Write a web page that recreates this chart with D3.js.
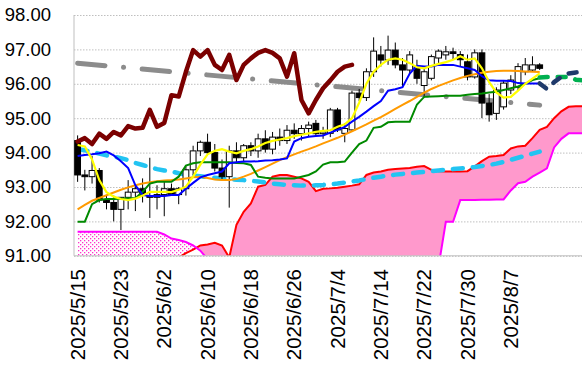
<!DOCTYPE html>
<html>
<head>
<meta charset="utf-8">
<script src="https://cdn.jsdelivr.net/npm/d3@7"></script>
<style>
body { margin: 0; background: #fff; }
svg { display: block; font-family: "Liberation Sans", Arial, sans-serif; }
</style>
</head>
<body>
<svg id="canvas"></svg>
<script>
// tick labels (one every 6 trading days)
let dates = ["2025/5/15","2025/5/23","2025/6/2","2025/6/10","2025/6/18","2025/6/26",
             "2025/7/4","2025/7/14","2025/7/22","2025/7/30","2025/8/7"];
let yTicks = [91, 92, 93, 94, 95, 96, 97, 98];

// daily candles [open, high, low, close]
let ohlc = [
  [94.35,94.50,93.15,93.35],[93.35,93.50,92.90,93.30],[93.30,93.90,93.10,93.48],[93.48,93.55,92.55,92.62],
  [92.62,92.75,92.35,92.55],[92.55,92.75,92.00,92.35],[92.35,92.70,91.75,92.70],[92.70,93.20,92.35,92.85],
  [92.85,93.05,92.30,92.95],[92.95,93.25,92.55,92.75],[92.75,93.85,92.10,92.70],[92.70,93.05,92.35,92.78],
  [92.78,93.15,92.15,92.95],[92.95,93.10,92.75,92.78],[92.78,93.00,92.50,92.95],[92.95,93.60,92.75,93.50],
  [93.50,94.20,93.35,94.05],[94.05,94.35,93.90,94.30],[94.30,94.55,93.95,94.00],[94.00,94.25,93.45,93.55],
  [93.55,93.80,93.20,93.30],[93.30,94.20,92.40,94.05],[94.05,94.30,93.70,93.85],[93.85,94.25,93.75,94.20],
  [94.20,94.30,93.90,94.05],[94.05,94.55,93.85,94.40],[94.40,94.65,94.00,94.10],[94.10,94.60,93.95,94.45],
  [94.45,94.70,94.20,94.35],[94.35,94.80,94.25,94.65],[94.65,94.85,94.40,94.55],[94.55,94.80,94.35,94.70],
  [94.70,94.90,94.45,94.80],[94.85,94.95,94.50,94.55],[94.55,94.75,94.40,94.60],[94.56,95.30,94.45,95.24],
  [95.24,95.30,94.60,94.66],[94.56,94.85,94.30,94.70],[94.66,95.80,94.60,95.73],[95.73,95.85,95.50,95.60],
  [95.60,96.45,95.50,96.35],[96.35,97.35,96.20,96.95],[96.84,97.10,96.50,96.69],[96.69,97.40,96.55,96.98],
  [96.98,97.20,96.45,96.55],[96.55,96.75,95.90,96.40],[96.40,96.95,96.30,96.84],[96.50,96.70,96.00,96.16],
  [95.95,96.45,95.60,96.35],[96.16,96.85,96.10,96.79],[96.75,97.00,96.55,96.95],[96.84,97.10,96.70,96.93],
  [96.93,97.05,96.70,96.88],[96.85,96.95,96.50,96.70],[96.64,96.85,96.10,96.20],[96.20,97.00,96.15,96.90],
  [96.90,97.00,95.00,95.44],[95.44,95.70,94.90,95.10],[95.14,95.90,94.95,95.82],[95.33,96.10,95.25,96.02],
  [95.82,96.25,95.70,96.11],[95.90,96.60,95.80,96.50],[96.35,96.75,96.25,96.55],[96.40,96.80,96.35,96.55],
  [96.55,96.60,96.40,96.45]
];

let ma5 = [94.22,94.18,93.80,93.20,92.85,92.72,92.65,92.62,92.66,92.75,92.86,92.86,92.86,92.85,92.92,93.01,
  93.30,93.65,93.95,94.05,94.10,94.03,93.98,94.05,94.10,94.18,94.28,94.34,94.38,94.42,94.48,94.52,94.56,
  94.60,94.63,94.65,94.75,94.82,95.00,95.45,96.00,96.35,96.55,96.70,96.74,96.70,96.60,96.48,96.45,96.52,
  96.58,96.63,96.70,96.80,96.70,96.74,96.45,96.05,95.75,95.60,95.62,95.80,96.00,96.15,96.30];

let ma25 = [92.35,92.48,92.60,92.68,92.76,92.84,92.92,92.99,93.05,93.10,93.14,93.17,93.19,93.20,93.22,93.25,
  93.28,93.30,93.26,93.22,93.20,93.20,93.23,93.30,93.38,93.48,93.58,93.68,93.78,93.87,93.95,94.03,94.10,
  94.18,94.27,94.35,94.43,94.52,94.62,94.72,94.82,94.93,95.03,95.15,95.27,95.39,95.50,95.62,95.74,95.85,
  95.94,96.02,96.10,96.17,96.23,96.28,96.32,96.35,96.37,96.38,96.38,96.37,96.36,96.35,96.34];

let ma75 = [94.10,94.07,94.02,93.97,93.92,93.88,93.84,93.78,93.70,93.64,93.58,93.52,93.48,93.45,93.40,93.36,
  93.33,93.31,93.29,93.27,93.25,93.23,93.21,93.20,93.18,93.16,93.13,93.10,93.08,93.06,93.05,93.04,93.04,
  93.05,93.06,93.08,93.10,93.13,93.16,93.19,93.23,93.27,93.30,93.33,93.36,93.38,93.40,93.42,93.44,93.46,
  93.48,93.50,93.52,93.54,93.56,93.58,93.61,93.64,93.68,93.73,93.79,93.85,93.91,93.97,94.03];

let tenkan = [93.90,93.93,93.95,93.98,94.03,93.92,93.75,93.55,93.05,92.77,92.74,92.74,92.74,92.77,92.77,92.95,
  93.12,93.28,93.35,93.40,93.45,93.69,93.72,93.74,93.74,93.75,93.77,93.78,93.80,93.83,94.32,94.42,94.46,
  94.48,94.50,94.58,94.66,94.75,94.90,95.04,95.19,95.35,95.50,95.80,95.84,95.90,96.30,96.52,96.50,96.50,
  96.55,96.55,96.55,96.50,96.45,96.40,96.22,96.10,96.09,96.09,96.08,96.02,96.01,96.01,96.01];

let kijun = [91.99,91.99,92.50,92.62,92.65,92.65,92.66,92.67,92.67,92.86,93.10,93.15,93.15,93.15,93.30,93.62,
  93.69,93.72,93.72,93.72,93.72,93.72,93.70,93.69,93.64,93.30,93.27,93.25,93.25,93.25,93.25,93.30,93.35,
  93.45,93.65,93.72,93.72,93.74,94.00,94.25,94.35,94.72,94.75,94.88,94.90,94.90,94.90,95.40,95.62,95.63,
  95.64,95.65,95.65,95.65,95.68,95.70,95.72,95.75,95.77,95.82,95.87,95.92,96.00,96.11,96.16];

// projections after the last candle (index 64 onwards)
let tenkanAhead = [96.01,95.85,96.05,96.20,96.30,96.33,96.35];
let kijunAhead  = [96.18,96.20,96.20,96.20,96.20,96.12,96.10];

// lagging span (close shifted 26 back)
let chikou = [94.32,94.42,94.25,94.55,94.40,94.60,94.50,94.77,94.70,94.72,95.24,94.75,94.86,95.67,95.63,
  96.35,96.98,96.79,96.98,96.55,96.40,96.84,96.11,96.55,96.74,96.90,96.98,96.90,96.74,96.21,96.89,95.53,
  95.14,95.53,95.87,96.10,96.35,96.50,96.55];

// leading spans (shifted 26 ahead), index 0..70
let spanA = [90.50,90.52,90.55,90.58,90.60,90.62,90.65,90.68,90.70,90.73,90.76,90.80,90.84,90.88,90.95,91.08,
  91.18,91.30,91.33,91.38,91.30,90.95,91.90,92.28,92.52,93.01,93.06,93.30,93.35,93.35,93.30,93.25,93.15,
  92.88,92.95,92.96,92.98,93.01,93.04,93.08,93.35,93.42,93.45,93.50,93.52,93.54,93.55,93.59,93.61,93.50,
  93.46,93.45,93.45,93.45,93.46,93.60,93.75,93.88,93.90,93.93,94.12,94.18,94.20,94.42,94.66,94.75,95.00,
  95.20,95.33,95.35,95.35];
let spanB = [91.70,91.70,91.70,91.70,91.70,91.70,91.70,91.70,91.70,91.70,91.70,91.70,91.62,91.50,91.46,91.40,
  91.30,91.15,90.90,90.60,90.50,90.50,90.50,90.50,90.50,90.50,90.50,90.50,90.50,90.50,90.50,90.50,90.50,
  90.50,90.50,90.50,90.50,90.50,90.50,90.50,90.50,90.50,90.50,90.50,90.55,90.60,90.60,90.65,90.70,90.70,
  90.70,91.99,91.99,92.62,92.62,92.62,92.63,92.63,92.64,92.64,92.90,93.11,93.15,93.30,93.42,93.54,94.15,
  94.40,94.56,94.56,94.56];

// trend line end points [index, value]
let trend = [[0, 96.60], [64, 95.38]];

let width = 582;
let height = 366;
let left = 74;
let step = 7.22;

let canvas = d3.select("#canvas").attr("width", width).attr("height", height);

let xScale = d3.scaleLinear().domain([-0.5, 90.5]).range([left, left + 91 * step]);
let yScale = d3.scaleLinear().domain([91, 98]).range([255.8, 15]);

let defs = canvas.append("defs");
defs.append("clipPath").attr("id", "plot")
    .append("rect").attr("x", left).attr("y", 0).attr("width", width - left).attr("height", yScale(91));

let dots = defs.append("pattern").attr("id", "dots").attr("patternUnits", "userSpaceOnUse")
    .attr("width", 4).attr("height", 4);
dots.append("rect").attr("width", 4).attr("height", 4).attr("fill", "#fff");
dots.append("rect").attr("x", 0).attr("y", 0).attr("width", 1.3).attr("height", 1.3).attr("fill", "#ff33cc");
dots.append("rect").attr("x", 2).attr("y", 2).attr("width", 1.3).attr("height", 1.3).attr("fill", "#ff33cc");

// y axis with dotted grid
let yAxis = d3.axisLeft(yScale).tickValues(yTicks).tickSize(-(width - left)).tickPadding(23)
    .tickFormat(d3.format(".2f"));
let gy = canvas.append("g").attr("transform", "translate(" + left + ",0)").call(yAxis);
gy.select(".domain").remove();
gy.selectAll(".tick line").attr("stroke", "#bfbfbf").attr("stroke-dasharray", "1.5,1.5");
gy.selectAll(".tick text").attr("font-size", "18.5px").attr("fill", "#000")
  .attr("font-family", "'Liberation Sans', Arial, sans-serif");

canvas.append("line").attr("x1", left).attr("x2", left).attr("y1", 15).attr("y2", yScale(91))
      .attr("stroke", "#bfbfbf");

let plot = canvas.append("g").attr("clip-path", "url(#plot)");

// cloud
let idx = (d, i) => xScale(i);
let cloud = spanA.map((a, i) => [a, spanB[i]]);
defs.append("clipPath").attr("id", "aboveB").append("path")
    .attr("d", d3.area().x(idx).y0(d => yScale(d[1])).y1(0)(cloud));
defs.append("clipPath").attr("id", "aboveA").append("path")
    .attr("d", d3.area().x(idx).y0(d => yScale(d[0])).y1(0)(cloud));
let between = d3.area().x(idx).y0(d => yScale(d[1])).y1(d => yScale(d[0]));
plot.append("g").attr("clip-path", "url(#aboveB)")
    .append("path").attr("d", between(cloud)).attr("fill", "#ff99cc");
plot.append("g").attr("clip-path", "url(#aboveA)")
    .append("path").attr("d", between(cloud)).attr("fill", "url(#dots)");

let line = d3.line().x(idx).y(d => yScale(d));
let lineFrom = (start) => d3.line().x((d, i) => xScale(i + start)).y(d => yScale(d));

plot.append("path").attr("d", line(spanA)).attr("fill", "none").attr("stroke", "#ff0000").attr("stroke-width", 2);
plot.append("path").attr("d", line(spanB)).attr("fill", "none").attr("stroke", "#ff00ff").attr("stroke-width", 2);

// trend line
plot.append("path")
    .attr("d", d3.line().x(d => xScale(d[0])).y(d => yScale(d[1]))(trend))
    .attr("fill", "none").attr("stroke", "#8c8c8c").attr("stroke-width", 5)
    .attr("stroke-linecap", "round").attr("stroke-dasharray", "27.5,18.6,0.1,18.6");

// long moving average
plot.append("path").attr("d", line(ma75)).attr("fill", "none").attr("stroke", "#22c4f2")
    .attr("stroke-width", 4.5).attr("stroke-dasharray", "10,10").attr("stroke-linecap", "round");

// candles
let candles = plot.selectAll(".candle").data(ohlc).enter().append("g").attr("class", "candle");
candles.append("line")
    .attr("x1", (d, i) => xScale(i)).attr("x2", (d, i) => xScale(i))
    .attr("y1", d => yScale(d[1])).attr("y2", d => yScale(d[2]))
    .attr("stroke", "#000").attr("stroke-width", 1);
candles.append("rect")
    .attr("x", (d, i) => xScale(i) - 2.9).attr("width", 5.8)
    .attr("y", d => yScale(Math.max(d[0], d[3])))
    .attr("height", d => Math.max(1, Math.abs(yScale(d[0]) - yScale(d[3]))))
    .attr("fill", d => d[3] >= d[0] ? "#fff" : "#000")
    .attr("stroke", "#000").attr("stroke-width", 1);

plot.append("path").attr("d", line(ma25)).attr("fill", "none").attr("stroke", "#ff9a00").attr("stroke-width", 2);
plot.append("path").attr("d", line(kijun)).attr("fill", "none").attr("stroke", "#008a00").attr("stroke-width", 2);
plot.append("path").attr("d", line(tenkan)).attr("fill", "none").attr("stroke", "#0000ff").attr("stroke-width", 2);
plot.append("path").attr("d", line(ma5)).attr("fill", "none").attr("stroke", "#ffff00").attr("stroke-width", 2.2);

plot.append("path").attr("d", lineFrom(64)(kijunAhead)).attr("fill", "none").attr("stroke", "#00b050")
    .attr("stroke-width", 4.5).attr("stroke-dasharray", "8,10").attr("stroke-linecap", "round");
plot.append("path").attr("d", lineFrom(64)(tenkanAhead)).attr("fill", "none").attr("stroke", "#1f3a6b")
    .attr("stroke-width", 4.5).attr("stroke-dasharray", "8,10").attr("stroke-linecap", "round");

plot.append("path").attr("d", line(chikou)).attr("fill", "none").attr("stroke", "#7b0000")
    .attr("stroke-width", 4.5).attr("stroke-linejoin", "round").attr("stroke-linecap", "round");

canvas.append("line").attr("x1", left).attr("x2", width).attr("y1", yScale(91)).attr("y2", yScale(91))
      .attr("stroke", "#bfbfbf");

// rotated date labels
canvas.append("g").selectAll("text").data(dates).enter().append("text")
    .attr("transform", (d, k) => "translate(" + xScale(k * 6) + ",269) rotate(-90)")
    .attr("text-anchor", "end").attr("dy", "0.35em")
    .attr("font-size", "20.5px").attr("fill", "#000")
    .text(d => d);
</script>
</body>
</html>
